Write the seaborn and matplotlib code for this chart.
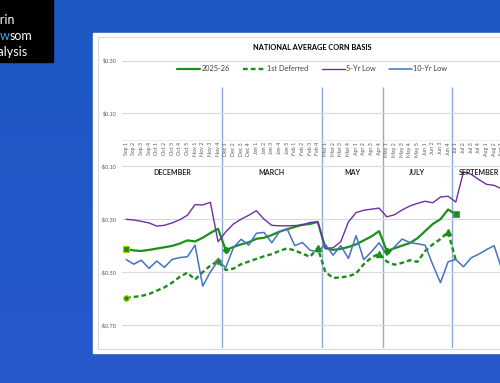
import numpy as np
import pandas as pd
import matplotlib
matplotlib.use('Agg')
import matplotlib.pyplot as plt
import seaborn as sns
from matplotlib.patches import Rectangle
from matplotlib.colors import LinearSegmentedColormap

weeks = ['Sep 1', 'Sep 2', 'Sep 3', 'Sep 4', 'Oct 1', 'Oct 2', 'Oct 3', 'Oct 4', 'Oct 5',
         'Nov 1', 'Nov 2', 'Nov 3', 'Nov 4', 'Dec 1', 'Dec 2', 'Dec 3', 'Dec 4',
         'Jan 1', 'Jan 2', 'Jan 3', 'Jan 4', 'Jan 5', 'Feb 1', 'Feb 2', 'Feb 3', 'Feb 4',
         'Mar 1', 'Mar 2', 'Mar 3', 'Mar 4', 'Apr 1', 'Apr 2', 'Apr 3', 'Apr 4',
         'May 1', 'May 2', 'May 3', 'May 4', 'May 5', 'Jun 1', 'Jun 2', 'Jun 3', 'Jun 4',
         'Jul 1', 'Jul 2', 'Jul 3', 'Jul 4', 'Aug 1', 'Aug 2', 'Aug 3', 'Aug 4']

basis_2025 = [-0.413, -0.418, -0.420, -0.416, -0.411, -0.406, -0.401, -0.392, -0.380, -0.384,
              -0.370, -0.352, -0.336, -0.417, -0.405, -0.395, -0.387, -0.374, -0.370, -0.360,
              -0.347, -0.338, -0.329, -0.321, -0.318, -0.310, -0.410, -0.416, -0.412, -0.405,
              -0.395, -0.380, -0.365, -0.345, -0.420, -0.410, -0.400, -0.390, -0.372, -0.345,
              -0.318, -0.300, -0.263, -0.282]
first_deferred = [-0.597, -0.594, -0.590, -0.583, -0.570, -0.558, -0.540, -0.518, -0.502, -0.528,
                  -0.500, -0.475, -0.458, -0.492, -0.487, -0.470, -0.460, -0.450, -0.440, -0.432,
                  -0.420, -0.410, -0.418, -0.430, -0.442, -0.408, -0.500, -0.522, -0.520, -0.516,
                  -0.505, -0.470, -0.445, -0.430, -0.460, -0.472, -0.465, -0.455, -0.461, -0.420,
                  -0.395, -0.375, -0.348, -0.455]
low_5yr = [-0.300, -0.303, -0.308, -0.314, -0.326, -0.323, -0.314, -0.302, -0.285, -0.245,
           -0.246, -0.236, -0.385, -0.348, -0.318, -0.300, -0.285, -0.268, -0.300, -0.323,
           -0.325, -0.325, -0.324, -0.322, -0.312, -0.310, -0.410, -0.408, -0.385, -0.310,
           -0.275, -0.266, -0.262, -0.258, -0.291, -0.283, -0.265, -0.250, -0.240, -0.232,
           -0.238, -0.216, -0.213, -0.235, -0.121, -0.130, -0.150, -0.168, -0.172, -0.185]
low_10yr = [-0.452, -0.470, -0.455, -0.486, -0.458, -0.482, -0.452, -0.445, -0.442, -0.398,
            -0.553, -0.499, -0.458, -0.483, -0.408, -0.376, -0.398, -0.353, -0.350, -0.389,
            -0.348, -0.336, -0.400, -0.388, -0.417, -0.423, -0.395, -0.436, -0.400, -0.448,
            -0.362, -0.453, -0.423, -0.389, -0.436, -0.405, -0.375, -0.388, -0.393, -0.398,
            -0.472, -0.540, -0.461, -0.452, -0.480, -0.446, -0.432, -0.415, -0.400, -0.490]

contract_months = ['DECEMBER', 'MARCH', 'MAY', 'JULY', 'SEPTEMBER']
contract_bounds = [-0.5, 12.5, 25.5, 33.5, 42.5, 49.5]
roll_2025 = [13, 34]
roll_deferred = [25, 33, 42]
y_ticks = [0.30, 0.10, -0.10, -0.30, -0.50, -0.70]
y_labels = [r'\$0.30', r'\$0.10', r'-\$0.10', r'-\$0.30', r'-\$0.50', r'-\$0.70']

def pad(vals):
    return list(vals) + [np.nan] * (len(weeks) - len(vals))

df = pd.DataFrame({
    'week': np.arange(len(weeks)),
    '2025-26': pad(basis_2025),
    '1st Deferred': pad(first_deferred),
    '5-Yr Low': pad(low_5yr),
    '10-Yr Low': pad(low_10yr),
})

sns.set_style('white')
plt.rcParams['font.family'] = ['Lato', 'DejaVu Sans']

fig = plt.figure(figsize=(5, 3.83), dpi=100)

# page background, panel and logo box (pixel coords)
bg = fig.add_axes([0, 0, 1, 1])
bg.set_xlim(0, 500)
bg.set_ylim(383, 0)
bg.axis('off')
bg.set_zorder(0)
cmap = LinearSegmentedColormap.from_list('page', ['#1c58c3', '#2759cc'])
bg.imshow(np.linspace(0, 1, 256).reshape(-1, 1), extent=(0, 500, 383, 0), cmap=cmap, aspect='auto')
bg.add_patch(Rectangle((93, 33), 420, 320, color='white', zorder=2))
bg.add_patch(Rectangle((98, 37), 410, 312, fill=False, ec='#d9d9d9', lw=0.8, zorder=3))
bg.add_patch(Rectangle((0, 0), 53, 62, color='black', zorder=2))
bg.text(15, 20, 'Darin', color='white', fontsize=9, ha='right', va='center', zorder=4)
t_som = bg.text(32, 36, 'som', color='white', fontsize=9, ha='right', va='center', zorder=4)
t_w = bg.annotate('w', xy=(0, 0), xycoords=t_som, color='#3fa9f5', fontsize=9, ha='right', va='bottom', zorder=4)
bg.annotate('Ne', xy=(0, 0), xycoords=t_w, color='white', fontsize=9, ha='right', va='bottom', zorder=4)
bg.text(28, 52, 'Analysis', color='white', fontsize=9, ha='right', va='center', zorder=4)

# chart area
ax = fig.add_axes([122.2 / 500, (383 - 347.5) / 383, (513.3 - 122.2) / 500, (347.5 - 60) / 383])
ax.set_zorder(1)
ax.set_facecolor('none')

green = '#1a8f1a'
sns.lineplot(data=df, x='week', y='2025-26', ax=ax, color=green, lw=1.6, estimator=None, label='2025-26')
sns.lineplot(data=df, x='week', y='1st Deferred', ax=ax, color=green, lw=1.7, estimator=None,
             linestyle=(0, (2, 1.3)), label='1st Deferred')
sns.lineplot(data=df, x='week', y='5-Yr Low', ax=ax, color='#7030a0', lw=1.0, estimator=None, label='5-Yr Low')
sns.lineplot(data=df, x='week', y='10-Yr Low', ax=ax, color='#4472c4', lw=1.1, estimator=None, label='10-Yr Low')

# contract roll markers
s25 = df['2025-26']
sd = df['1st Deferred']
ax.plot(0, s25[0], 's', ms=5, mfc=green, mec='#c8c800', mew=0.8)
ax.plot(43, s25[43], 's', ms=5, mfc=green, mec='#808080', mew=0.8)
ax.plot(roll_2025, s25[roll_2025], 'D', ms=3.2, mfc=green, mec=green)
ax.plot(0, sd[0], 'o', ms=4, mfc=green, mec='#c8c800', mew=0.8)
ax.plot(12, sd[12], 'D', ms=3.5, mfc=green, mec='#7f7f7f', mew=0.8)
ax.plot(roll_deferred, sd[roll_deferred], '^', ms=4, mfc=green, mec=green)

ax.vlines(contract_bounds[1:5], -0.785, 0.2, color='#8eaadb', lw=1.0, zorder=0.5)
for name, a, b in zip(contract_months, contract_bounds[:-1], contract_bounds[1:]):
    ax.text((a + b) / 2, -0.125, name, ha='center', va='center', fontsize=5, fontweight='bold', color='#262626')

# spine position first: moving it resets tick styling
for s in ['top', 'right', 'left']:
    ax.spines[s].set_visible(False)
ax.spines['bottom'].set_position(('data', 0))
ax.spines['bottom'].set_color('#e6e6e6')
ax.spines['bottom'].set_linewidth(0.5)

ax.set_xlim(-0.5, 50.5)
ax.set_ylim(-0.785, 0.302)
ax.set_xticks(np.arange(len(weeks)))
ax.set_xticklabels(weeks, rotation=90, fontsize=3.8, color='#595959')
ax.set_yticks(y_ticks)
ax.set_yticklabels(y_labels, fontsize=4, color='#595959')
ax.tick_params(axis='x', direction='in', length=2, width=0.5, color='#bfbfbf', pad=1.5)
ax.tick_params(axis='y', length=0, pad=4)
ax.yaxis.grid(True, color='#d9d9d9', lw=0.8)
ax.set_axisbelow(True)
ax.set_xlabel('')
ax.set_ylabel('')

handles, labels = ax.get_legend_handles_labels()
ax.legend(handles[:4], labels[:4], loc='center', bbox_to_anchor=(0.624, 0.82), bbox_transform=fig.transFigure,
          ncol=4, frameon=False, fontsize=5.3, handlelength=3.2, columnspacing=1.8, handletextpad=0.1,
          labelcolor='#404040')

fig.text(0.624, 1 - 47 / 383, 'NATIONAL AVERAGE CORN BASIS', ha='center', va='center',
         fontsize=5.3, fontweight='bold', color='black')

fig.savefig('out.png', dpi=100)
